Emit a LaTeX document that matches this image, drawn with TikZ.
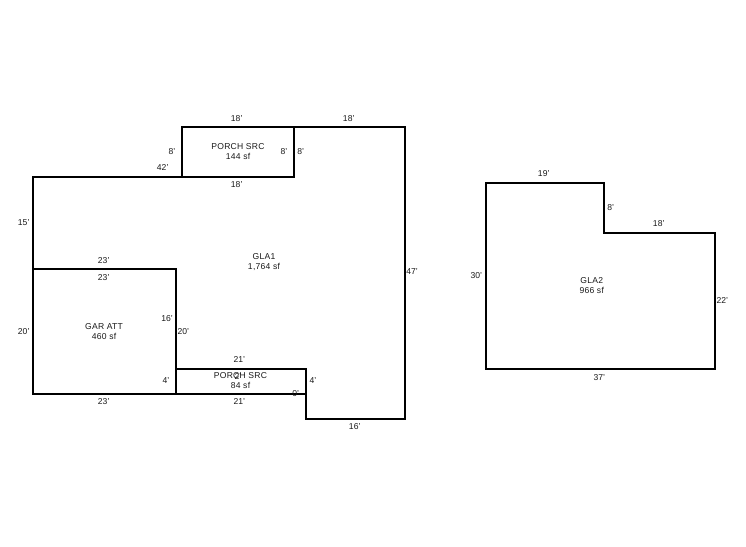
\documentclass[tikz,border=0pt]{standalone}
\usepackage{fontspec}
\setmainfont{Liberation Sans}
\tikzset{
  wall/.style={draw=black,line width=2bp,line join=miter,line cap=rect},
  dim/.style={inner sep=0pt,font=\fontsize{8.6}{9.8}\selectfont,text=black!90},
  area/.style={inner sep=0pt,align=center,font=\addfontfeatures{LetterSpace=3}\fontsize{8.6}{10}\selectfont,text=black!90}
}
\begin{document}
\begin{tikzpicture}[x=1bp,y=-1bp]
\useasboundingbox (0,0) rectangle (746,547);
% GLA1
\draw[wall] (33,177) -- (182,177) -- (182,127) -- (405,127) -- (405,419) -- (306,419) -- (306,369) -- (176,369) -- (176,269) -- (33,269) -- cycle;
% PORCH SRC upper
\draw[wall] (182,127) rectangle (294,177);
% GAR ATT
\draw[wall] (33,269) rectangle (176,394);
% PORCH SRC lower
\draw[wall] (176,369) rectangle (306,394);
% GLA2
\draw[wall] (486,183) -- (604,183) -- (604,233) -- (715,233) -- (715,369) -- (486,369) -- cycle;
% areas
\node[area] (a1) at (264,262.5) {GLA1\\1,764 sf};
\node[area] (a2) at (238,151.5) {PORCH SRC\\144 sf};
\node[area] (a3) at (240.5,381) {PORCH SRC\\84 sf};
\node[area] (a4) at (104,331.7) {GAR ATT\\460 sf};
\node[area] (a5) at (591.7,285.7) {GLA2\\966 sf};
% dimensions
\node[dim] (d1) at (236.7,118.7) {18'};
\node[dim] (d2) at (348.7,118.7) {18'};
\node[dim] (d3) at (172,151.3) {8'};
\node[dim] (d4) at (162.7,167.7) {42'};
\node[dim] (d5) at (284,151.3) {8'};
\node[dim] (d6) at (300.7,151.3) {8'};
\node[dim] (d7) at (236.7,184.7) {18'};
\node[dim] (d8) at (239.3,359.7) {21'};
\node[dim] (d9) at (166,380.5) {4'};
\node[dim] (d10) at (238,376.5) {2'};
\node[dim] (d11) at (295.7,393.3) {0'};
\node[dim] (d12) at (313,380.3) {4'};
\node[dim] (d13) at (239.3,401.7) {21'};
\node[dim] (d14) at (354.7,426.7) {16'};
\node[dim] (d15) at (23.7,222.7) {15'};
\node[dim] (d16) at (103.7,260.7) {23'};
\node[dim] (d17) at (103.7,277.7) {23'};
\node[dim] (d18) at (23.7,331.7) {20'};
\node[dim] (d19) at (167,318.3) {16'};
\node[dim] (d20) at (183.3,331.7) {20'};
\node[dim] (d21) at (103.7,401.7) {23'};
\node[dim] (d22) at (412,272) {47'};
\node[dim] (d23) at (543.7,173.7) {19'};
\node[dim] (d24) at (610.7,207.7) {8'};
\node[dim] (d25) at (658.7,223.7) {18'};
\node[dim] (d26) at (476.3,276) {30'};
\node[dim] (d27) at (722.3,300.3) {22'};
\node[dim] (d28) at (599.3,377.7) {37'};
\end{tikzpicture}
\end{document}
